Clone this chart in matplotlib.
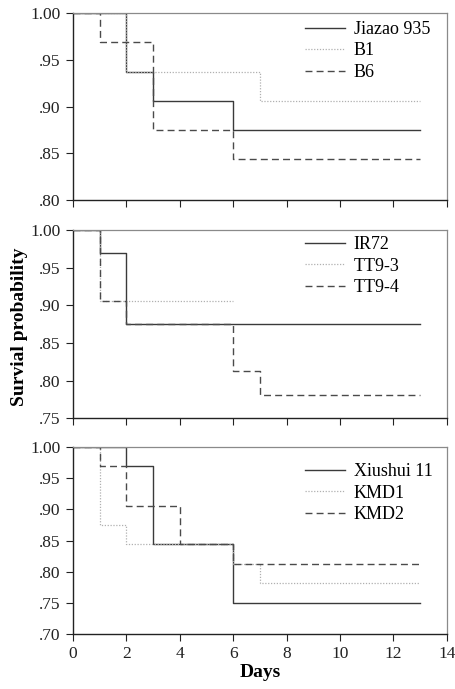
import matplotlib
matplotlib.use("Agg")
import matplotlib.pyplot as plt
from matplotlib.ticker import FuncFormatter

plt.rcParams['font.family'] = ['Liberation Serif', 'DejaVu Serif']

# Panel 1
p1_labels = ["Jiazao 935", "B1", "B6"]
jiazao_t = [0, 2, 3, 6, 13]
jiazao_s = [1.0, 0.9375, 0.906, 0.875, 0.875]
b1_t = [0, 2, 7, 13]
b1_s = [1.0, 0.9375, 0.906, 0.906]
b6_t = [0, 1, 3, 6, 13]
b6_s = [1.0, 0.969, 0.875, 0.844, 0.844]

# Panel 2
p2_labels = ["IR72", "TT9-3", "TT9-4"]
ir72_t = [0, 1, 2, 13]
ir72_s = [1.0, 0.969, 0.875, 0.875]
tt93_t = [0, 1, 6]
tt93_s = [1.0, 0.906, 0.906]
tt94_t = [0, 1, 2, 6, 7, 13]
tt94_s = [1.0, 0.906, 0.875, 0.8125, 0.781, 0.781]

# Panel 3
p3_labels = ["Xiushui 11", "KMD1", "KMD2"]
xiu_t = [0, 2, 3, 6, 13]
xiu_s = [1.0, 0.969, 0.844, 0.75, 0.75]
kmd1_t = [0, 1, 2, 6, 7, 13]
kmd1_s = [1.0, 0.875, 0.844, 0.8125, 0.781, 0.781]
kmd2_t = [0, 1, 2, 4, 6, 13]
kmd2_s = [1.0, 0.969, 0.906, 0.844, 0.8125, 0.8125]

ylims = [(0.80, 1.00), (0.75, 1.00), (0.70, 1.00)]
xticks = [0, 2, 4, 6, 8, 10, 12, 14]

fig = plt.figure(figsize=(4.56, 6.89), dpi=100)
left, width = 0.160, 0.820
boxes = [(0.7097, 0.981), (0.393, 0.666), (0.080, 0.351)]
legend_anchor_y = [0.958, 0.968, 0.915]

panels = [
    (p1_labels, [(jiazao_t, jiazao_s), (b1_t, b1_s), (b6_t, b6_s)]),
    (p2_labels, [(ir72_t, ir72_s), (tt93_t, tt93_s), (tt94_t, tt94_s)]),
    (p3_labels, [(xiu_t, xiu_s), (kmd1_t, kmd1_s), (kmd2_t, kmd2_s)]),
]
styles = [
    dict(color='#3a3a3a', linestyle='-', linewidth=1.0),
    dict(color='#b0b0b0', linestyle=(0, (1, 1.3)), linewidth=0.9),
    dict(color='#4a4a4a', linestyle=(0, (5, 3)), linewidth=1.0),
]

def fmt(v, pos):
    s = "%.2f" % v
    return s[1:] if s.startswith("0") else s

for i, ((labels, series), (b, t), yl) in enumerate(zip(panels, boxes, ylims)):
    ax = fig.add_axes([left, b, width, t - b])
    for (tt, ss), lab, st in zip(series, labels, styles):
        ax.step(tt, ss, where='post', label=lab, **st)
    ax.set_xlim(0, 14)
    ax.set_ylim(*yl)
    ax.set_xticks(xticks)
    ax.set_yticks([round(yl[0] + 0.05 * k, 2) for k in range(int(round((yl[1] - yl[0]) / 0.05)) + 1)])
    ax.yaxis.set_major_formatter(FuncFormatter(fmt))
    ax.tick_params(direction='out', length=5, width=0.8, labelsize=12.5,
                   colors='#222222', pad=4)
    if i < 2:
        ax.tick_params(axis='x', labelbottom=False)
    for sp in ['top', 'right']:
        ax.spines[sp].set_color('#8a8a8a')
        ax.spines[sp].set_linewidth(0.9)
    for sp in ['left', 'bottom']:
        ax.spines[sp].set_color('#222222')
        ax.spines[sp].set_linewidth(1.0)
    ax.legend(loc='upper left', bbox_to_anchor=(0.62, legend_anchor_y[i]),
              frameon=False, fontsize=13,
              handlelength=2.2, handletextpad=0.5, labelspacing=0.25,
              borderaxespad=0.0, borderpad=0.0)
    if i == 2:
        ax.set_xlabel("Days", fontsize=14, fontweight='bold', labelpad=1)

fig.text(0.042, 0.525, "Survial probability", rotation=90, fontsize=14,
         fontweight='bold', ha='center', va='center')

fig.savefig("out.png", dpi=100)
